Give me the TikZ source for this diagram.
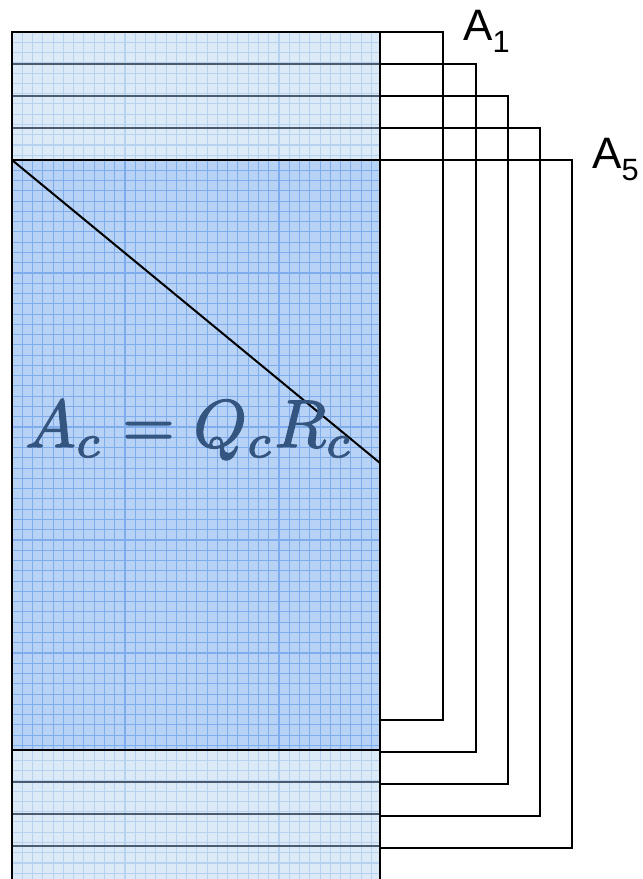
\documentclass[tikz,border=0pt]{standalone}
\usepackage{fontspec}
\usepackage{graphicx}
\newfontfamily\lab{Liberation Sans}
\definecolor{lightfill}{HTML}{DCE9F6}
\definecolor{darkfill}{HTML}{B8D2F6}
\definecolor{lightgrid}{HTML}{B6D2F0}
\definecolor{darkgrid}{HTML}{7EACEC}
\definecolor{sepline}{HTML}{4A5C6E}
\definecolor{mathcol}{HTML}{34557F}
\tikzset{
  bracket/.style={draw=black, line width=2.6pt},
  sep/.style={draw=sepline, line width=2.4pt},
  edge/.style={draw=black, line width=2.6pt},
  lbl/.style={font=\lab\fontsize{44}{44}\selectfont, inner sep=0pt}
}
\begin{document}
\begin{tikzpicture}[x=1pt,y=-1pt]
\useasboundingbox (0,0) rectangle (643,879);
% fills
\fill[lightfill] (12,32) rectangle (380,160);
\fill[darkfill] (12,160) rectangle (380,750);
\fill[lightfill] (12,750) rectangle (380,879);
% grids
\begin{scope}
\clip (12,32) rectangle (380,160);
\foreach \i in {1,...,36} \draw[lightgrid, line width=1.1pt] ({12+10.27*\i},32) -- ++(0,128);
\foreach \j in {1,...,12} \draw[lightgrid, line width=1.1pt] (12,{32+10.27*\j}) -- ++(368,0);
\end{scope}
\begin{scope}
\clip (12,160) rectangle (380,750);
\foreach \i in {1,...,36} \draw[darkgrid, line width=1.1pt] ({12+10.27*\i},160) -- ++(0,590);
\foreach \j in {1,...,58} \draw[darkgrid, line width=1.1pt] (12,{160+10.27*\j}) -- ++(368,0);
\end{scope}
\begin{scope}
\clip (12,750) rectangle (380,879);
\foreach \i in {1,...,36} \draw[lightgrid, line width=1.1pt] ({12+10.27*\i},750) -- ++(0,129);
\foreach \j in {1,...,13} \draw[lightgrid, line width=1.1pt] (12,{750+10.27*\j}) -- ++(368,0);
\end{scope}
% separators
\foreach \y in {64,96,128,782,814,846} \draw[sep] (12,\y) -- (380,\y);
% outline
\draw[edge] (12,879) -- (12,32) -- (380,32);
\draw[edge] (12,160) -- (380,160);
\draw[edge] (12,750) -- (380,750);
\draw[edge] (380,32) -- (380,879);
% diagonal
\coordinate (d1) at (12,160);
\coordinate (d2) at (380,463);
\draw[black, line width=2pt] (d1) -- (d2);
% math
\node[text=mathcol, inner sep=0pt, anchor=base west] (eq) at (25,447)
  {\resizebox{328pt}{!}{\special{pdf:code 2 Tr 0.18 w}$A_c = Q_c R_c$\special{pdf:code 0 Tr}}};
% brackets
\foreach \k/\t/\x in {1/32/443,2/64/476,3/96/508,4/128/540,5/160/572} {
  \coordinate (bt\k) at (380,\t);
  \coordinate (bb\k) at (380,\t+688);
  \draw[bracket] (bt\k) -- (\x,\t) -- (\x,\t+688) -- (bb\k);
}
% labels
\node[lbl, anchor=base west] (a1) at (463,40) {A\textsubscript{1}};
\node[lbl, anchor=base west] (a5) at (592,168) {A\textsubscript{5}};
\end{tikzpicture}
\end{document}
